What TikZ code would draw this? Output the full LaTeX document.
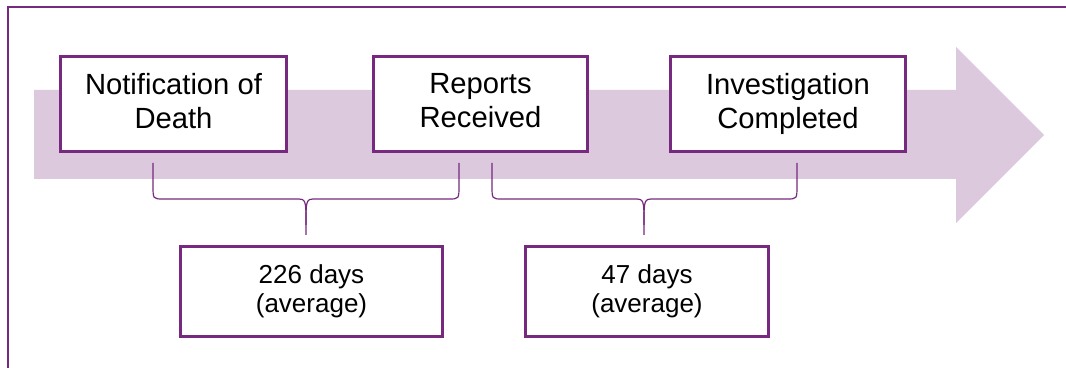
\documentclass[tikz,border=0pt]{standalone}
\usepackage{fontspec}
\setmainfont{Liberation Sans}
\usepackage{xcolor}
\usepackage{tikz}
\usetikzlibrary{positioning}
\definecolor{plum}{RGB}{118,41,126}
\definecolor{lilac}{RGB}{220,201,222}
\tikzstyle{stage} = [draw=plum, line width=1.5pt, fill=white, rectangle, align=center, minimum height=47.5pt, font=\fontsize{14.6}{17}\selectfont, execute at begin node={\rule{0pt}{13.3pt}}, execute at end node={\rule[-3.2pt]{0pt}{3.2pt}}]
\tikzstyle{span} = [draw=plum, line width=1.5pt, fill=white, rectangle, align=center, minimum height=45pt, font=\fontsize{13}{14.5}\selectfont, execute at begin node={\rule{0pt}{12pt}}, execute at end node={\rule[-3.2pt]{0pt}{3.2pt}}]
\tikzstyle{brace} = [draw=plum, line width=0.6pt]

\begin{document}
\begin{tikzpicture}[x=0.5pt, y=-0.5pt, node distance=153.5pt]
	  \useasboundingbox (0,0) rectangle (1066,368);
	  \draw [plum, line width=1pt] (8,370) -- (8,7) -- (1068,7);
	
	  \fill [lilac] (34,90) -- (956,90) -- (956,47) -- (1044,135) -- (956,223) -- (956,179) -- (34,179) -- cycle;
	
	  \node [stage, minimum width=113pt] at (173.5,104) (notif) {Notification of\\Death};
	  \node [stage, minimum width=107pt, right of=notif] (reports) {Reports\\Received};
	  \node [stage, minimum width=117.5pt, right of=reports, node distance=153.75pt] (invest) {Investigation\\Completed};
	
	  \node [span, minimum width=131pt] at (311.5,291.5) (days1) {226 days\\(average)};
	  \node [span, minimum width=121.5pt] at (647,291.5) (days2) {47 days\\(average)};
	
	  \coordinate (b1l) at (153,163);
	  \coordinate (b1r) at (459,163);
	  \coordinate (b1t) at (306,235);
	  \coordinate (b2l) at (492,163);
	  \coordinate (b2r) at (797,163);
	  \coordinate (b2t) at (644,235);
	
	  \draw [brace] (b1l) -- (153,185) .. controls (153,199) .. (163,199) -- (296,199) .. controls (306,199) .. (306,225) -- (b1t);
	  \draw [brace] (306,225) .. controls (306,199) .. (316,199) -- (449,199) .. controls (459,199) .. (459,185) -- (b1r);
	  \draw [brace] (b2l) -- (492,185) .. controls (492,199) .. (502,199) -- (634,199) .. controls (644,199) .. (644,225) -- (b2t);
	  \draw [brace] (644,225) .. controls (644,199) .. (654,199) -- (787,199) .. controls (797,199) .. (797,185) -- (b2r);
	\end{tikzpicture}
\end{document}
